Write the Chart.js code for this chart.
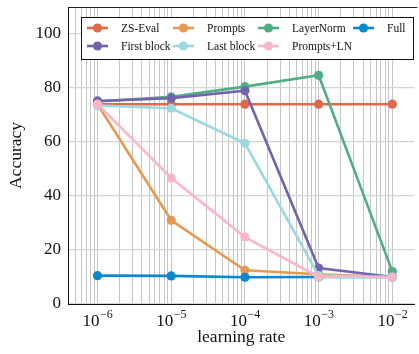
<!DOCTYPE html>
<html>
<head>
<meta charset="utf-8">
<script src="https://cdn.jsdelivr.net/npm/chart.js@4.4.1/dist/chart.umd.min.js"></script>
<style>
  html, body { margin: 0; padding: 0; background: #ffffff; overflow: hidden; }
  #wrap { width: 419px; height: 354px; position: relative; }
</style>
</head>
<body>
<div id="wrap"><canvas id="c" width="419" height="354"></canvas></div>
<script>
// Accuracy versus learning rate for each fine-tuning variant
const learningRates = [1e-6, 1e-5, 1e-4, 1e-3, 1e-2];
const seriesNames = ['ZS-Eval', 'Prompts', 'LayerNorm', 'Full', 'First block', 'Last block', 'Prompts+LN'];
const zsEval     = [74, 74, 74, 74, 74];
const prompts    = [74, 31, 12.5, 11, 10];
const layerNorm  = [75, 76.7, 80.5, 84.7, 12];
const full       = [10.5, 10.4, 9.9, 10, 10];
const firstBlock = [75.2, 76.2, 79, 13.3, 10];
const lastBlock  = [73.5, 72.5, 59.5, 10.5, 10];
const promptsLN  = [74, 46.7, 24.8, 10, 10];
const yTicks = [0, 20, 40, 60, 80, 100];
const xTickExponents = [-6, -5, -4, -3, -2];

const seriesValues = [zsEval, prompts, layerNorm, full, firstBlock, lastBlock, promptsLN];
const seriesColors = ['#E0684A', '#E59A50', '#50AD86', '#0B86D1', '#7363AD', '#9BD9DF', '#FCB6C9'];

const SERIF = '"Liberation Serif", "DejaVu Serif", serif';

const datasets = seriesValues.map((vals, i) => ({
  label: seriesNames[i],
  data: vals.map((v, j) => ({ x: learningRates[j], y: v })),
  borderColor: seriesColors[i],
  backgroundColor: seriesColors[i],
  pointBackgroundColor: seriesColors[i],
  pointBorderColor: seriesColors[i],
  pointRadius: 4.6,
  pointBorderWidth: 0,
  borderWidth: 2.6,
  tension: 0,
  // later series are painted over earlier ones
  order: seriesValues.length - i
}));

// x tick labels as 10 with a raised exponent, the top frame line and the legend
const decorations = {
  id: 'decorations',
  afterDraw(chart) {
    const ctx = chart.ctx;
    const xs = chart.scales.x;
    const area = chart.chartArea;
    ctx.save();
    ctx.strokeStyle = '#222';
    ctx.lineWidth = 1;
    ctx.beginPath();
    ctx.moveTo(area.left, area.top + 0.5);
    ctx.lineTo(area.right + 3, area.top + 0.5);
    ctx.stroke();

    ctx.fillStyle = '#111';
    ctx.textBaseline = 'alphabetic';
    ctx.textAlign = 'left';
    xTickExponents.forEach(e => {
      const px = xs.getPixelForValue(Math.pow(10, e));
      const base = '10';
      const exp = '\u2212' + Math.abs(e);
      ctx.font = '17px ' + SERIF;
      const wb = ctx.measureText(base).width;
      ctx.font = '12px ' + SERIF;
      const we = ctx.measureText(exp).width;
      const x0 = px - (wb + we) / 2;
      ctx.font = '17px ' + SERIF;
      ctx.fillText(base, x0, 326);
      ctx.font = '12px ' + SERIF;
      ctx.fillText(exp, x0 + wb + 0.5, 318);
    });

    // legend box inside the plot
    const lx = 81, ly = 17, lw = 332, lh = 42;
    ctx.fillStyle = '#ffffff';
    ctx.fillRect(lx, ly, lw, lh);
    ctx.strokeStyle = '#111';
    ctx.lineWidth = 1;
    ctx.strokeRect(lx + 0.5, ly + 0.5, lw, lh);
    const cols = [87, 173, 258, 353];
    const rows = [28, 46];
    ctx.font = '11.5px ' + SERIF;
    ctx.textBaseline = 'middle';
    chart.data.datasets.forEach((ds, i) => {
      const cx = cols[i % 4];
      const cy = rows[Math.floor(i / 4)];
      ctx.strokeStyle = ds.borderColor;
      ctx.lineWidth = 2.6;
      ctx.beginPath();
      ctx.moveTo(cx, cy);
      ctx.lineTo(cx + 21, cy);
      ctx.stroke();
      ctx.fillStyle = ds.borderColor;
      ctx.beginPath();
      ctx.arc(cx + 10.5, cy, 4.6, 0, Math.PI * 2);
      ctx.fill();
      ctx.fillStyle = '#111';
      ctx.fillText(ds.label, cx + 34, cy + 0.5);
    });
    ctx.restore();
  }
};

new Chart(document.getElementById('c'), {
  type: 'line',
  data: { datasets },
  options: {
    responsive: false,
    animation: false,
    devicePixelRatio: 1,
    layout: { padding: { top: 7, right: 3, left: 0, bottom: 0 } },
    plugins: { legend: { display: false }, tooltip: { enabled: false } },
    scales: {
      x: {
        type: 'logarithmic',
        min: Math.pow(10, -6.4),
        max: 0.0199,
        afterBuildTicks(scale) {
          const ticks = [];
          for (let e = -7; e <= -2; e++) {
            for (let k = 1; k <= 9; k++) {
              const v = k * Math.pow(10, e);
              if (v >= scale.min * 1.001 && v <= scale.max) ticks.push({ value: v, major: k === 1 });
            }
          }
          scale.ticks = ticks;
        },
        afterFit(scale) {
          scale.height = 50;
          scale.paddingLeft = 0; scale.paddingRight = 0;
        },
        grid: { color: '#c6c6c6', lineWidth: 1, drawTicks: false },
        border: { display: true, color: '#111', width: 1 },
        ticks: { display: false, autoSkip: false },
        title: {
          display: true, text: 'learning rate', color: '#111',
          font: { family: SERIF, size: 17.5 }, padding: { top: 0, bottom: 6 }
        }
      },
      y: {
        type: 'linear',
        min: 0,
        max: 110,
        afterBuildTicks(scale) { scale.ticks = yTicks.map(v => ({ value: v })); },
        afterFit(scale) {
          scale.width = 68;
          scale.paddingTop = 0; scale.paddingBottom = 0;
        },
        grid: { color: '#d4d4d4', lineWidth: 1.2, drawTicks: false },
        border: { display: true, color: '#111', width: 1 },
        ticks: { color: '#111', font: { family: SERIF, size: 17 }, padding: 7 },
        title: {
          display: true, text: 'Accuracy', color: '#111',
          font: { family: SERIF, size: 17.5 }, padding: { top: 6, bottom: 0 }
        }
      }
    }
  },
  plugins: [decorations]
});
</script>
</body>
</html>
